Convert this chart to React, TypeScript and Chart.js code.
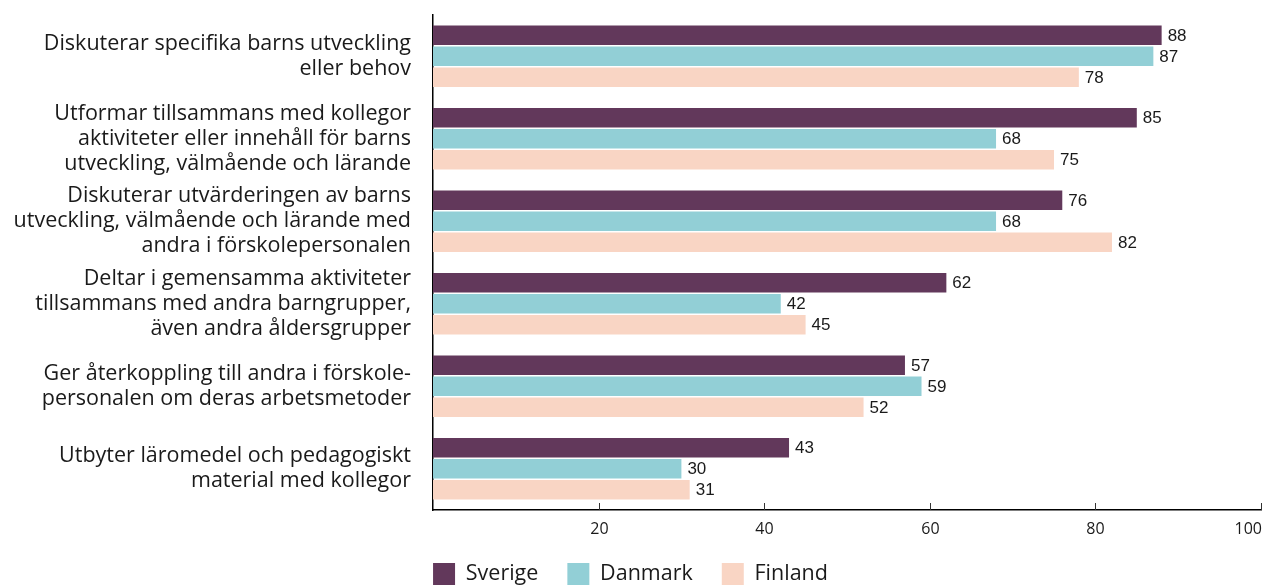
import React, { useEffect, useRef } from "react";
import { Chart, registerables } from "chart.js";

Chart.register(...registerables);

const categories: string[][] = [
  ["Diskuterar specifika barns utveckling", "eller behov"],
  ["Utformar tillsammans med kollegor", "aktiviteter eller innehåll för barns", "utveckling, välmående och lärande"],
  ["Diskuterar utvärderingen av barns", "utveckling, välmående och lärande med", "andra i förskolepersonalen"],
  ["Deltar i gemensamma aktiviteter", "tillsammans med andra barngrupper,", "även andra åldersgrupper"],
  ["Ger återkoppling till andra i förskole-", "personalen om deras arbetsmetoder"],
  ["Utbyter läromedel och pedagogiskt", "material med kollegor"],
];

const sverige = [88, 85, 76, 62, 57, 43];
const danmark = [87, 68, 68, 42, 59, 30];
const finland = [78, 75, 82, 45, 52, 31];

const xTicks = [20, 40, 60, 80, 100];

const FONT = "'Open Sans', 'Noto Sans', sans-serif";
const TEXT = "#1a1a1a";

const valueLabels = {
  id: "valueLabels",
  afterDatasetsDraw(chart: any) {
    const ctx = chart.ctx;
    ctx.save();
    ctx.font = "17px 'Liberation Sans', Arial, sans-serif";
    ctx.fillStyle = TEXT;
    ctx.textAlign = "left";
    ctx.textBaseline = "middle";
    chart.data.datasets.forEach((ds: any, i: number) => {
      const meta = chart.getDatasetMeta(i);
      meta.data.forEach((el: any, j: number) => {
        ctx.fillText(String(ds.data[j]), el.x + 6, el.y + 1);
      });
    });
    ctx.restore();
  },
};

const xAxisDecor = {
  id: "xAxisDecor",
  afterDraw(chart: any) {
    const ctx = chart.ctx;
    const xs = chart.scales.x;
    const area = chart.chartArea;
    ctx.save();
    ctx.strokeStyle = "#333";
    ctx.lineWidth = 1;
    ctx.font = `16px ${FONT}`;
    ctx.fillStyle = TEXT;
    ctx.textBaseline = "middle";
    xTicks.forEach((t) => {
      const px = Math.round(xs.getPixelForValue(t)) + 0.5;
      ctx.beginPath();
      ctx.moveTo(px, area.bottom);
      ctx.lineTo(px, area.bottom - 7);
      ctx.stroke();
      const label = String(t);
      const w = ctx.measureText(label).width;
      let lx = px - w / 2;
      if (lx + w > chart.width - 1) lx = chart.width - 1 - w;
      ctx.textAlign = "left";
      ctx.fillText(label, lx, area.bottom + 19);
    });
    ctx.restore();
  },
};

export default function App() {
  const ref = useRef<HTMLCanvasElement | null>(null);
  useEffect(() => {
    if (!ref.current) return;
    const chart = new Chart(ref.current, {
      type: "bar",
      data: {
        labels: categories,
        datasets: [
          { label: "Sverige", data: sverige, backgroundColor: "#62385B" },
          { label: "Danmark", data: danmark, backgroundColor: "#92CFD6" },
          { label: "Finland", data: finland, backgroundColor: "#F9D5C4" },
        ],
      },
      options: {
        indexAxis: "y",
        responsive: false,
        animation: false,
        layout: { padding: { top: 15, right: 2, left: 0, bottom: -10 } },
        datasets: {
          bar: { categoryPercentage: 0.765, barPercentage: 0.93 },
        },
        scales: {
          x: {
            min: 0,
            max: 100,
            grid: { display: false, drawTicks: false },
            border: { display: true, color: "#000", width: 1.5 },
            ticks: { display: false },
            afterFit: (s: any) => {
              s.height = 24;
              s.paddingLeft = 0;
              s.paddingRight = 0;
            },
          },
          y: {
            grid: { display: false, drawTicks: false },
            border: { display: true, color: "#000", width: 1.5 },
            ticks: {
              padding: 22,
              color: TEXT,
              font: { family: FONT, size: 21.5, lineHeight: 1.16 },
            },
            afterFit: (s: any) => {
              s.width = 433;
              s.paddingTop = 0;
              s.paddingBottom = 0;
            },
          },
        },
        plugins: {
          legend: {
            position: "bottom",
            labels: {
              boxWidth: 22,
              boxHeight: 22,
              padding: 29,
              color: TEXT,
              font: { family: FONT, size: 21.5 },
            },
          },
          tooltip: { enabled: false },
        },
      },
      plugins: [valueLabels, xAxisDecor],
    });
    return () => chart.destroy();
  }, []);
  return (
    <canvas
      ref={ref}
      width={1263}
      height={585}
      style={{ position: "absolute", left: 0, top: 0, display: "block" }}
    />
  );
}
